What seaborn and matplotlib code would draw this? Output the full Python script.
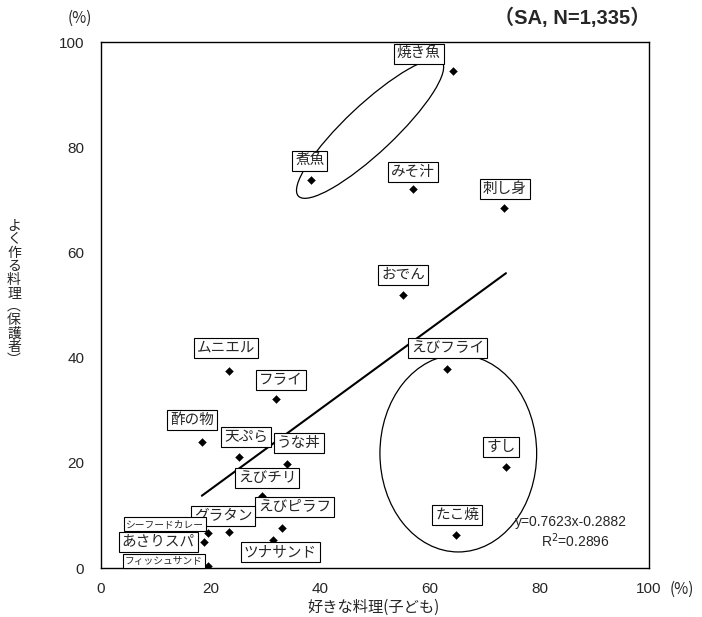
import matplotlib
matplotlib.use('Agg')
import matplotlib.pyplot as plt
import seaborn as sns
import pandas as pd
import numpy as np
from matplotlib.patches import Ellipse

# ---- data ----
dishes = ['焼き魚', '煮魚', 'みそ汁', '刺し身', 'おでん', 'えびフライ', 'すし', 'たこ焼',
          'ムニエル', 'フライ', '酢の物', '天ぷら', 'うな丼', 'えびチリ', 'えびピラフ',
          'ツナサンド', 'グラタン', 'シーフードカレー', 'あさりスパ', 'フィッシュサンド']
child_like = [64.2, 38.3, 56.9, 73.5, 55.1, 63.1, 73.9, 64.8,
              23.4, 31.9, 18.4, 25.2, 33.9, 29.4, 33.0,
              31.4, 23.4, 19.5, 18.8, 19.5]
parent_make = [94.5, 73.8, 72.0, 68.4, 51.9, 37.8, 19.2, 6.3,
               37.5, 32.1, 24.0, 21.1, 19.8, 13.7, 7.6,
               5.3, 6.8, 6.7, 4.9, 0.4]
slope = 0.7623
intercept = -0.2882
r_squared = 0.2896
x_ticks = [0, 20, 40, 60, 80, 100]
y_ticks = [0, 20, 40, 60, 80, 100]
title_text = '（SA, N=1,335）'
x_label = '好きな料理(子ども)'
y_label = 'よく作る料理︵保護者︶'

# ---- label placement (offset pixels from point) ----
label_offsets = {
    '焼き魚': (-34, 17), '煮魚': (-1, 19), 'みそ汁': (0, 17), '刺し身': (1, 19),
    'おでん': (0, 20), 'えびフライ': (1, 21), 'すし': (-5, 20), 'たこ焼': (1, 20),
    'ムニエル': (-3, 23), 'フライ': (5, 19), '酢の物': (-10, 22), '天ぷら': (7, 20),
    'うな丼': (12, 21), 'えびチリ': (5, 18), 'えびピラフ': (13, 21),
    'ツナサンド': (7, -12), 'グラタン': (-6, 16), 'シーフードカレー': (-43, 9),
    'あさりスパ': (-46, 0), 'フィッシュサンド': (-44, 5),
}
small_labels = {'シーフードカレー', 'フィッシュサンド'}

sns.set_theme(style='white')
jp = ['Noto Sans CJK JP', 'DejaVu Sans']
num = ['Liberation Sans', 'DejaVu Sans']
num_jp = ['Liberation Sans', 'Noto Sans CJK JP', 'DejaVu Sans']
plt.rcParams['font.family'] = jp

df = pd.DataFrame({'dish': dishes, 'child': child_like, 'parent': parent_make})

fig = plt.figure(figsize=(7.02, 6.17), dpi=100)
ax = fig.add_axes([101 / 702, 1 - 568 / 617, 548 / 702, 526 / 617])

sns.scatterplot(data=df, x='child', y='parent', marker='D', s=16,
                color='black', edgecolor='black', linewidth=0.3, ax=ax, zorder=4)

xs = np.array([df['child'].min(), df['child'].max()])
ax.plot(xs, slope * xs + intercept, color='black', lw=1.5, zorder=2)

# group ellipses
ax.add_patch(Ellipse((49.1, 83.5), width=36.6, height=9.0, angle=44.5,
                     fill=False, ec='black', lw=0.9, zorder=3))
ax.add_patch(Ellipse((65.2, 21.8), width=28.6, height=37.5,
                     fill=False, ec='black', lw=0.9, zorder=3))

for name, xv, yv in zip(dishes, child_like, parent_make):
    dx, dy = label_offsets[name]
    fs = 7 if name in small_labels else 10.5
    ax.annotate(name, (xv, yv), xytext=(dx, dy), textcoords='offset pixels',
                ha='center', va='center', fontsize=fs, family=jp, zorder=5,
                bbox=dict(boxstyle='square,pad=0.2', fc='white', ec='black', lw=0.8))

ax.set_xlim(0, 100)
ax.set_ylim(0, 100)
ax.set_xticks(x_ticks)
ax.set_yticks(y_ticks)
ax.set_xticklabels([str(t) for t in x_ticks], family=num, fontsize=11)
ax.set_yticklabels([str(t) for t in y_ticks], family=num, fontsize=11)
ax.tick_params(axis='x', direction='in', length=4, width=0.8, color='black', pad=10)
ax.tick_params(axis='y', direction='in', length=4, width=0.8, color='black', pad=12)
for sp in ax.spines.values():
    sp.set_color('black')
    sp.set_linewidth(1.0)
ax.set_xlabel('')
ax.set_ylabel('')

ax.text(0.858, 0.088, f'y={slope}x{intercept:+.4f}', transform=ax.transAxes,
        ha='center', va='center', fontsize=10, family=num)
ax.text(0.865, 0.052, f'R$^2$={r_squared}', transform=ax.transAxes,
        ha='center', va='center', fontsize=10, family=num)

fig.text(374 / 702, 1 - 607 / 617, x_label, ha='center', va='center', fontsize=11, family=jp)
fig.text(682 / 702, 1 - 589 / 617, '(%)', ha='center', va='center', fontsize=11, family=jp)
fig.text(80 / 702, 1 - 18 / 617, '(%)', ha='center', va='center', fontsize=11, family=jp)
fig.text(14 / 702, 1 - 293 / 617, '\n'.join(y_label), ha='center', va='center',
         fontsize=10, family=jp, linespacing=0.95)
fig.text(572 / 702, 1 - 18 / 617, title_text, ha='center', va='center',
         fontsize=14.5, fontweight='bold', family=num_jp)

fig.savefig('out.png', dpi=100)
